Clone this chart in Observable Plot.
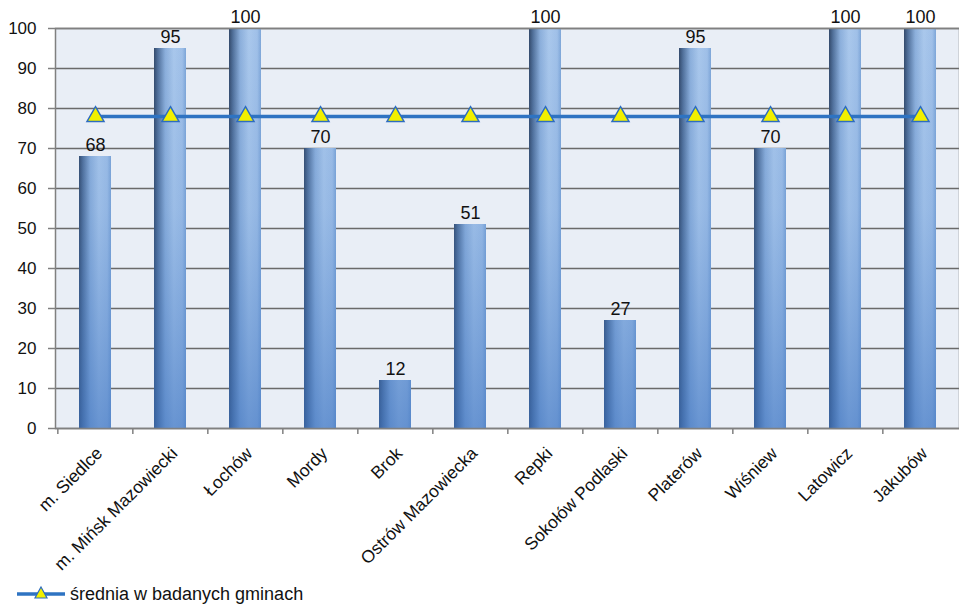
<!DOCTYPE html>
<html>
<head>
<meta charset="utf-8">
<script src="https://cdn.jsdelivr.net/npm/d3@7"></script>
<script src="https://cdn.jsdelivr.net/npm/@observablehq/plot@0.6"></script>
<style>
  html, body { margin: 0; padding: 0; background: #fff; }
  #chart { width: 959px; }
  #legend { font-family: "Liberation Sans", Arial, sans-serif; font-size: 18px; color: #111; display: flex; align-items: center; height: 28px; padding-left: 16px; }
  #legend span { margin-left: 4px; }
</style>
</head>
<body>
<div id="chart"></div>
<div id="legend">
  <svg width="50" height="20"><line x1="1" x2="49" y1="10" y2="10" stroke="#2e73c2" stroke-width="3.5"/><path d="M25,3 L31,14 L19,14 Z" fill="#f2f000" stroke="#2d6cc0" stroke-width="1.2"/></svg>
  <span>średnia w badanych gminach</span>
</div>
<script>
const categories = ["m. Siedlce", "m. Mińsk Mazowiecki", "Łochów", "Mordy", "Brok", "Ostrów Mazowiecka", "Repki", "Sokołów Podlaski", "Platerów", "Wiśniew", "Latowicz", "Jakubów"];
const values = [68, 95, 100, 70, 12, 51, 100, 27, 95, 70, 100, 100];
const average = [78, 78, 78, 78, 78, 78, 78, 78, 78, 78, 78, 78];
const yTicks = [0, 10, 20, 30, 40, 50, 60, 70, 80, 90, 100];
const averageLabel = "średnia w badanych gminach";

const data = categories.map((c, i) => ({cat: c, value: values[i], avg: average[i]}));

const W = 959, ML = 55, MR = 0;
const step = (W - ML - MR) / categories.length;

const chart = Plot.plot({
  width: W,
  height: 580,
  marginLeft: ML,
  marginRight: MR,
  marginTop: 28,
  marginBottom: 152,
  style: {fontFamily: "'Liberation Sans', Arial, sans-serif", color: "#111", background: "transparent"},
  x: {domain: categories, paddingInner: 0.58, paddingOuter: 0.29, label: null},
  y: {domain: [0, 100], label: null},
  marks: [
    Plot.frame({fill: "#e9eef6", stroke: null}),
    Plot.gridY(yTicks, {stroke: "#6a6a6a", strokeOpacity: 1, strokeWidth: 1.5}),
    Plot.barY(data, {x: "cat", y: "value", fill: "url(#barH)"}),
    Plot.barY(data, {x: "cat", y: "value", fill: "url(#barV)"}),
    Plot.frame({stroke: "#808080", strokeWidth: 1.5}),
    Plot.axisY(yTicks, {tickSize: 7, tickPadding: 12, fontSize: 17, stroke: "#808080", strokeWidth: 1.5, label: null}),
    Plot.ruleX(categories, {x: d => d, y1: 0, y2: 0, insetBottom: -6, dx: -step / 2, stroke: "#808080", strokeWidth: 1.5}),
    Plot.axisX({tickSize: 0, tickPadding: 22, tickRotate: -45, fontSize: 17.5, label: null, dx: 4}),
    Plot.lineY(data, {x: "cat", y: "avg", stroke: "#2e73c2", strokeWidth: 3.5}),
    Plot.dot(data, {x: "cat", y: "avg", symbol: "triangle", r: 6.3, fill: "#f2f000", stroke: "#2d6cc0", strokeWidth: 1.5}),
    Plot.text(data, {x: "cat", y: "value", text: d => String(d.value), lineAnchor: "bottom", dy: -6, fontSize: 18, fill: "#111"})
  ]
});

d3.select(chart).insert("defs", ":first-child").html(`
  <linearGradient id="barH" x1="0" x2="1" y1="0" y2="0">
    <stop offset="0" stop-color="#33496a"/>
    <stop offset="0.12" stop-color="#506f99"/>
    <stop offset="0.35" stop-color="#8cafdb"/>
    <stop offset="0.62" stop-color="#aac8ec"/>
    <stop offset="0.88" stop-color="#a0c0e8"/>
    <stop offset="1" stop-color="#7ea6d8"/>
  </linearGradient>
  <linearGradient id="barV" gradientUnits="userSpaceOnUse" x1="0" x2="0" y1="28" y2="428">
    <stop offset="0" stop-color="#4a7fc8" stop-opacity="0"/>
    <stop offset="0.45" stop-color="#4a7fc8" stop-opacity="0.15"/>
    <stop offset="1" stop-color="#3c72c0" stop-opacity="0.6"/>
  </linearGradient>
`);

document.getElementById("chart").appendChild(chart);
document.querySelector("#legend span").textContent = averageLabel;
</script>
</body>
</html>
